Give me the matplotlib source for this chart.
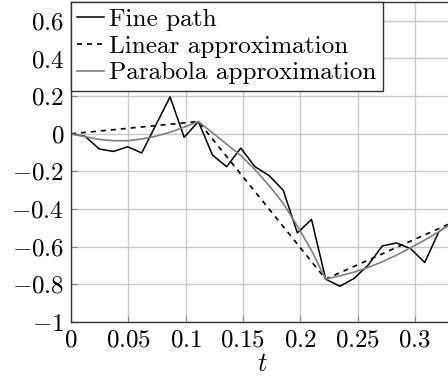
import numpy as np
import matplotlib
matplotlib.use("Agg")
import matplotlib.pyplot as plt
from matplotlib.ticker import FuncFormatter

# fine path sampled at t = k/81, k = 0..27
t_fine = np.arange(28) / 81.0
y_fine = [0.0, -0.014, -0.081, -0.094, -0.069, -0.102, 0.047, 0.196,
          -0.019, 0.065, -0.113, -0.175, -0.076, -0.175, -0.222, -0.30,
          -0.527, -0.455, -0.772, -0.81, -0.769, -0.698, -0.596, -0.58,
          -0.61, -0.684, -0.52, -0.47]

# linear approximation through the coarse nodes
t_lin = [0.0, 1 / 9, 2 / 9, 1 / 3]
y_lin = [0.0, 0.065, -0.772, -0.47]

# parabola approximation, read off at the same t grid
y_par = [0.0, -0.016, -0.03, -0.037, -0.037, -0.028, -0.013, 0.008,
         0.035, 0.065, 0.005, -0.055, -0.115, -0.19, -0.275, -0.37,
         -0.49, -0.62, -0.772, -0.755, -0.735, -0.71, -0.68, -0.645,
         -0.605, -0.565, -0.52, -0.47]

x_ticks = [0, 0.05, 0.1, 0.15, 0.2, 0.25, 0.3]
y_ticks = [-1, -0.8, -0.6, -0.4, -0.2, 0, 0.2, 0.4, 0.6]

plt.rcParams['font.family'] = 'serif'
plt.rcParams['font.serif'] = ['cmr10']
plt.rcParams['mathtext.fontset'] = 'cm'
plt.rcParams['axes.unicode_minus'] = True
fs = 18

fig = plt.figure(figsize=(4.48, 3.77), dpi=100)
ax = fig.add_axes([71 / 448, 55 / 377, 382 / 448, 320 / 377])

ax.plot(t_fine, y_fine, color='black', lw=1.1, label='Fine path')
ax.plot(t_lin, y_lin, color='black', lw=1.2, ls=(0, (3, 3)),
        label='Linear approximation')
ax.plot(t_fine, y_par, color='#808080', lw=1.2,
        label='Parabola approximation')

ax.set_xlim(0, 1 / 3)
ax.set_ylim(-1, 0.7)
ax.set_xticks(x_ticks)
ax.set_yticks(y_ticks)
fmt = FuncFormatter(lambda v, p: '$%g$' % v)
ax.xaxis.set_major_formatter(fmt)
ax.yaxis.set_major_formatter(fmt)
ax.tick_params(direction='in', length=4, width=0.8, color='#888888',
               labelsize=fs, pad=5)
ax.grid(True, color='#c8c8c8', lw=1.0)
ax.set_axisbelow(True)
for s in ax.spines.values():
    s.set_color('#333333')
    s.set_linewidth(1.0)

ax.set_xlabel('$t$', fontsize=fs + 1, labelpad=1)

leg = ax.legend(loc='upper left', bbox_to_anchor=(0, 1), borderaxespad=0,
                fontsize=18.2, handlelength=1.05, handletextpad=0.2,
                labelspacing=0.16, borderpad=0.25, fancybox=False,
                framealpha=1)
leg.get_frame().set_edgecolor('#333333')
leg.get_frame().set_linewidth(1.0)

fig.savefig('out.png', dpi=100)
